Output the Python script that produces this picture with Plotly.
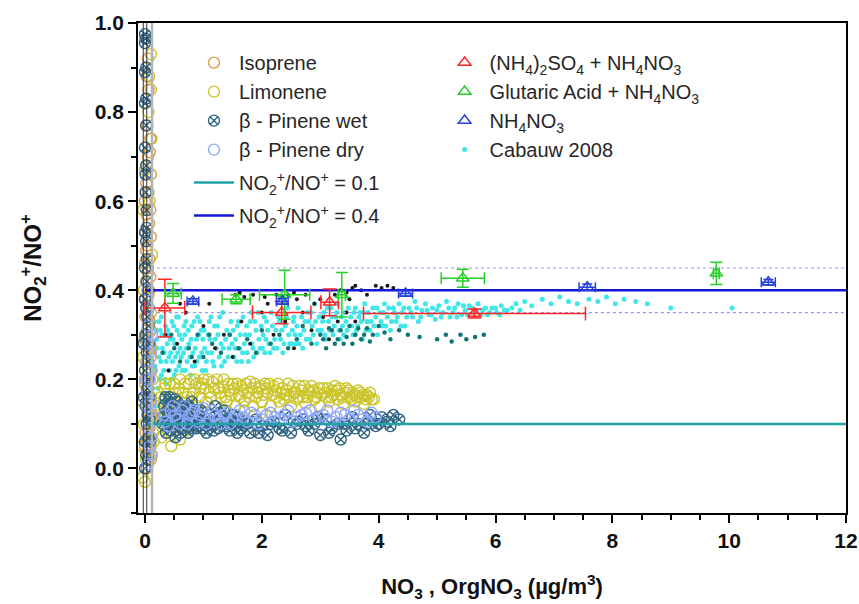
import plotly.graph_objects as go

# ---------------- data ----------------
# Chamber experiments: (NO3 or OrgNO3 mass, NO2+/NO+ ratio)
ISOPRENE = [(0.03, 0.0), (0.06, 0.03), (0.02, 0.06), (0.07, 0.09), (0.04, 0.12), (0.08, 0.15),
            (0.03, 0.18), (0.06, 0.21), (0.02, 0.24), (0.07, 0.27), (0.04, 0.30), (0.08, 0.33),
            (0.03, 0.36), (0.06, 0.39), (0.02, 0.42), (0.05, 0.45), (0.08, 0.47), (0.04, 0.50),
            (0.07, 0.55), (0.03, 0.57), (0.06, 0.62), (0.02, 0.64), (0.05, 0.70), (0.08, 0.71),
            (0.06, 0.85), (0.03, 0.88), (0.05, 0.92), (0.01, 0.08), (0.05, 0.16), (0.01, 0.34),
            (0.07, 0.40), (0.02, 0.49), (0.10, 0.02), (0.00, 0.05), (0.10, 0.12), (0.00, 0.20),
            (0.10, 0.25), (-0.01, 0.29), (0.10, 0.31), (0.00, 0.38), (0.09, 0.43), (0.00, 0.46),
            (0.10, 0.52), (0.01, 0.53), (0.09, 0.58), (0.00, 0.60), (0.10, 0.66), (0.02, 0.68),
            (0.09, 0.74), (0.04, 0.77)]

LIMONENE = [(0.15, 0.06), (0.18, 0.09), (0.20, 0.13), (0.22, 0.17), (0.28, 0.07), (0.30, 0.11),
            (0.32, 0.15), (0.35, 0.19), (0.40, 0.08), (0.45, 0.16), (0.50, 0.19), (0.55, 0.14),
            (0.60, 0.20), (0.65, 0.17), (0.70, 0.13), (0.75, 0.19), (0.80, 0.16), (0.85, 0.20),
            (0.90, 0.14), (0.95, 0.18), (1.00, 0.20), (1.05, 0.15), (1.10, 0.17), (1.15, 0.195),
            (1.20, 0.14), (1.25, 0.18), (1.30, 0.16), (1.35, 0.20), (1.40, 0.15), (1.45, 0.175),
            (1.50, 0.19), (1.55, 0.14), (1.60, 0.165), (1.65, 0.185), (1.70, 0.15), (1.75, 0.17),
            (1.80, 0.195), (1.85, 0.14), (1.90, 0.16), (1.95, 0.18), (2.00, 0.15), (2.05, 0.19),
            (2.10, 0.17), (2.15, 0.14), (2.20, 0.185), (2.25, 0.16), (2.30, 0.15), (2.35, 0.18),
            (2.40, 0.165), (2.45, 0.19), (2.50, 0.14), (2.55, 0.17), (2.60, 0.155), (2.65, 0.185),
            (2.70, 0.16), (2.75, 0.145), (2.80, 0.175), (2.85, 0.185), (2.90, 0.155), (2.95, 0.17),
            (3.00, 0.14), (3.05, 0.18), (3.10, 0.16), (3.15, 0.15), (3.20, 0.175), (3.25, 0.185),
            (3.30, 0.155), (3.35, 0.165), (3.40, 0.145), (3.45, 0.18), (3.50, 0.16), (3.55, 0.17),
            (3.60, 0.15), (3.65, 0.175), (3.70, 0.16), (3.75, 0.145), (3.80, 0.165), (3.85, 0.17),
            (3.92, 0.155), (0.50, 0.10), (0.60, 0.065), (0.70, 0.085), (0.45, 0.05), (0.90, 0.12),
            (1.10, 0.12), (1.40, 0.13), (1.70, 0.13), (2.00, 0.125),
            (0.25, 0.12), (0.27, 0.16), (0.33, 0.18), (0.38, 0.13), (0.42, 0.19), (0.47, 0.11),
            (0.52, 0.17), (0.58, 0.18), (0.62, 0.15), (0.68, 0.19), (0.72, 0.16), (0.78, 0.20),
            (0.83, 0.17), (0.88, 0.19), (0.93, 0.16), (0.98, 0.19), (1.03, 0.18), (1.08, 0.20),
            (1.13, 0.16), (1.18, 0.18), (1.23, 0.20), (1.28, 0.17), (1.33, 0.185), (1.38, 0.16),
            (1.43, 0.19), (1.48, 0.165), (1.53, 0.18), (1.58, 0.19), (1.63, 0.16), (1.68, 0.175),
            (1.73, 0.19), (1.78, 0.16), (1.83, 0.18), (1.88, 0.19), (1.93, 0.17), (1.98, 0.185),
            (2.03, 0.165), (2.08, 0.18), (2.13, 0.19), (2.18, 0.165), (2.23, 0.175), (2.28, 0.19),
            (2.33, 0.17), (2.38, 0.155), (2.43, 0.175), (2.48, 0.16), (2.53, 0.185), (2.58, 0.17),
            (2.63, 0.16), (2.68, 0.175), (2.73, 0.185), (2.78, 0.16), (2.83, 0.17), (2.88, 0.175),
            (2.93, 0.16), (2.98, 0.18), (3.03, 0.165), (3.08, 0.17), (3.13, 0.18), (3.18, 0.16),
            (3.23, 0.165), (3.28, 0.175), (3.33, 0.18), (3.38, 0.16), (3.43, 0.17), (3.48, 0.175),
            (3.53, 0.155), (3.58, 0.165), (3.63, 0.16), (3.68, 0.17), (3.73, 0.165), (3.78, 0.155),
            (3.83, 0.16), (3.88, 0.155),
            (0.00, -0.03), (-0.04, -0.02), (0.02, 0.02), (0.05, 0.04), (0.08, 0.07), (-0.02, 0.10),
            (0.04, 0.13), (0.10, 0.16), (0.00, 0.19), (0.06, 0.22), (-0.03, 0.25), (0.10, 0.93),
            (0.07, 0.88), (0.10, 0.85), (0.06, 0.80), (0.02, 0.62), (0.08, 0.60), (-0.03, 0.58),
            (0.05, 0.44), (0.10, 0.35), (0.03, 0.31), (0.12, 0.03), (0.14, 0.08), (0.12, 0.12),
            (0.10, 0.05), (-0.05, 0.05), (-0.04, 0.15), (0.13, 0.20), (0.11, 0.27), (-0.02, 0.40),
            (0.12, 0.48), (0.00, 0.67), (0.11, 0.74)]

PINENE_WET = [(0.30, 0.10), (0.33, 0.14), (0.36, 0.08), (0.40, 0.12), (0.42, 0.16), (0.46, 0.10),
              (0.50, 0.13), (0.52, 0.07), (0.55, 0.15), (0.60, 0.11), (0.63, 0.09), (0.66, 0.14),
              (0.70, 0.12), (0.74, 0.08), (0.78, 0.10), (0.80, 0.15), (0.85, 0.12), (0.88, 0.09),
              (0.92, 0.11), (0.96, 0.13), (1.00, 0.10), (1.05, 0.08), (1.10, 0.12), (1.15, 0.10),
              (1.20, 0.14), (1.25, 0.09), (1.30, 0.11), (1.35, 0.13), (1.40, 0.10), (1.45, 0.085),
              (1.50, 0.12), (1.55, 0.10), (1.60, 0.115), (1.65, 0.09), (1.70, 0.105), (1.80, 0.08),
              (1.90, 0.11), (2.00, 0.095), (2.10, 0.075), (2.20, 0.105), (2.30, 0.09), (2.40, 0.12),
              (2.50, 0.08), (2.60, 0.10), (2.70, 0.11), (2.80, 0.085), (2.90, 0.10), (3.00, 0.075),
              (3.10, 0.11), (3.20, 0.09), (3.30, 0.10), (3.35, 0.065), (3.45, 0.085), (3.55, 0.115),
              (3.65, 0.10), (3.75, 0.08), (3.85, 0.12), (3.95, 0.095), (4.05, 0.115), (4.15, 0.105),
              (4.25, 0.12), (4.35, 0.11),
              (0.32, 0.12), (0.35, 0.16), (0.38, 0.10), (0.41, 0.14), (0.44, 0.085), (0.48, 0.12),
              (0.51, 0.155), (0.54, 0.10), (0.57, 0.13), (0.61, 0.08), (0.64, 0.12), (0.68, 0.10),
              (0.72, 0.14), (0.76, 0.115), (0.82, 0.09), (0.90, 0.13), (0.98, 0.09), (1.08, 0.11),
              (1.18, 0.085), (1.28, 0.125), (1.38, 0.095), (1.48, 0.11), (1.58, 0.08), (1.75, 0.10),
              (1.95, 0.08), (2.15, 0.10), (2.35, 0.085), (2.55, 0.105), (2.75, 0.095), (2.95, 0.115),
              (3.15, 0.08), (3.40, 0.10), (3.60, 0.09), (3.80, 0.10), (4.00, 0.10), (4.20, 0.095),
              (0.00, 0.00), (0.02, 0.03), (0.00, 0.06), (0.03, 0.10), (0.01, 0.14), (0.04, 0.18),
              (0.00, 0.22), (0.03, 0.26), (0.01, 0.30), (0.04, 0.34), (0.00, 0.38), (0.03, 0.42),
              (0.00, 0.45), (0.02, 0.51), (0.00, 0.53), (0.03, 0.54), (0.01, 0.66), (0.02, 0.68),
              (0.00, 0.82), (0.02, 0.83), (0.00, 0.89), (0.02, 0.90), (0.00, 0.955), (0.01, 0.965),
              (0.00, 0.975), (0.03, 0.47), (0.02, 0.36), (0.05, 0.02), (0.06, 0.07), (0.05, 0.12),
              (0.07, 0.16), (0.06, 0.20), (0.05, 0.24), (0.07, 0.28), (0.06, 0.32), (0.05, 0.40),
              (0.08, 0.11), (0.09, 0.06), (-0.02, 0.16), (-0.02, 0.28), (0.01, 0.62), (0.00, 0.72),
              (0.02, 0.77), (0.03, 0.58)]

PINENE_DRY = [(0.32, 0.12), (0.40, 0.095), (0.48, 0.14), (0.56, 0.11), (0.64, 0.13), (0.72, 0.10),
              (0.80, 0.125), (0.90, 0.105), (1.00, 0.135), (1.10, 0.11), (1.20, 0.12), (1.30, 0.10),
              (1.40, 0.125), (1.50, 0.11), (1.62, 0.13), (1.75, 0.105), (1.88, 0.12), (2.00, 0.11),
              (2.15, 0.125), (2.30, 0.11), (2.45, 0.13), (2.60, 0.115), (2.75, 0.125), (2.90, 0.11),
              (3.05, 0.12), (3.20, 0.105), (3.35, 0.125), (3.50, 0.11), (3.65, 0.12), (3.80, 0.105),
              (3.95, 0.115),
              (0.35, 0.105), (0.44, 0.13), (0.52, 0.12), (0.60, 0.10), (0.68, 0.14), (0.76, 0.12),
              (0.85, 0.13), (0.95, 0.12), (1.05, 0.10), (1.15, 0.13), (1.25, 0.11), (1.35, 0.12),
              (1.45, 0.10), (1.56, 0.12), (1.68, 0.115), (1.82, 0.125), (1.94, 0.10), (2.08, 0.12),
              (2.22, 0.115), (2.38, 0.12), (2.52, 0.105), (2.68, 0.12), (2.82, 0.13), (2.98, 0.115),
              (3.12, 0.13), (3.28, 0.115), (3.42, 0.12), (3.58, 0.13), (3.72, 0.11), (3.88, 0.125),
              (0.05, 0.01), (0.08, 0.05), (0.06, 0.09), (0.09, 0.13), (0.05, 0.17), (0.08, 0.20),
              (0.06, 0.24), (0.09, 0.28), (0.05, 0.32), (0.07, 0.36), (0.04, 0.40), (0.10, 0.03),
              (0.11, 0.07), (0.10, 0.15), (0.11, 0.22), (0.10, 0.26), (0.12, 0.30), (0.03, 0.14),
              (0.02, 0.20)]

# Ambient measurements (Cabauw 2008)
CABAUW = [(0.08, 0.12), (0.10, 0.16), (0.12, 0.20), (0.10, 0.24), (0.14, 0.27), (0.12, 0.30),
          (0.16, 0.33), (0.18, 0.10), (0.20, 0.14), (0.22, 0.18), (0.18, 0.22), (0.24, 0.25),
          (0.20, 0.29), (0.26, 0.31), (0.28, 0.21), (0.30, 0.17), (0.30, 0.27), (0.28, 0.34),
          (0.34, 0.20), (0.36, 0.24), (0.38, 0.28), (0.35, 0.32), (0.42, 0.22), (0.44, 0.26),
          (0.40, 0.30), (0.46, 0.33), (0.50, 0.21), (0.52, 0.25), (0.48, 0.29), (0.55, 0.31),
          (0.58, 0.23), (0.60, 0.27), (0.57, 0.34), (0.64, 0.22), (0.66, 0.26), (0.68, 0.30),
          (0.70, 0.33), (0.72, 0.24), (0.75, 0.28), (0.78, 0.21), (0.80, 0.32), (0.82, 0.26),
          (0.85, 0.23), (0.88, 0.29), (0.90, 0.34), (0.93, 0.25), (0.96, 0.31), (0.98, 0.22),
          (1.02, 0.27), (1.05, 0.24), (1.08, 0.30), (1.10, 0.33), (1.14, 0.26), (1.18, 0.23),
          (1.20, 0.29), (1.24, 0.32), (1.27, 0.25), (1.30, 0.28), (1.33, 0.35), (1.36, 0.24),
          (1.40, 0.31), (1.44, 0.27), (1.47, 0.33), (1.52, 0.25), (1.55, 0.29), (1.58, 0.32),
          (1.62, 0.27), (1.65, 0.24), (1.68, 0.34), (1.72, 0.30), (1.75, 0.26), (1.80, 0.33),
          (1.83, 0.28), (1.86, 0.25), (1.90, 0.31), (1.94, 0.35), (1.97, 0.27), (2.02, 0.30),
          (2.05, 0.26), (2.08, 0.33), (2.12, 0.28), (2.16, 0.35), (2.20, 0.27), (2.24, 0.31),
          (2.28, 0.34), (2.32, 0.29), (2.36, 0.26), (2.40, 0.32), (2.44, 0.36), (2.48, 0.28),
          (2.52, 0.31), (2.55, 0.34), (2.58, 0.28), (2.62, 0.36), (2.66, 0.30), (2.70, 0.27),
          (2.74, 0.33), (2.78, 0.35), (2.82, 0.29), (2.86, 0.32), (2.90, 0.37), (2.94, 0.28),
          (2.98, 0.34), (3.02, 0.31), (3.06, 0.35), (3.10, 0.29), (3.14, 0.33), (3.18, 0.36),
          (3.22, 0.30), (3.26, 0.34), (3.30, 0.37), (3.34, 0.29), (3.38, 0.32), (3.42, 0.35),
          (3.46, 0.31), (3.52, 0.34), (3.56, 0.30), (3.60, 0.36), (3.64, 0.32), (3.68, 0.35),
          (3.72, 0.29), (3.76, 0.37), (3.80, 0.33), (3.85, 0.31), (3.90, 0.36), (3.95, 0.34),
          (3.98, 0.30), (4.02, 0.35), (4.06, 0.32), (4.10, 0.37), (4.15, 0.34), (4.20, 0.31),
          (4.25, 0.36), (4.30, 0.33), (4.35, 0.37), (4.40, 0.35), (4.45, 0.32), (4.52, 0.36),
          (4.58, 0.34), (4.62, 0.375), (4.68, 0.33), (4.74, 0.355), (4.80, 0.37), (4.86, 0.345),
          (4.92, 0.36), (4.97, 0.335), (5.03, 0.365), (5.10, 0.35), (5.16, 0.375), (5.22, 0.34),
          (5.30, 0.36), (5.36, 0.37), (5.42, 0.345), (5.48, 0.355), (5.55, 0.365), (5.62, 0.35),
          (5.70, 0.37), (5.78, 0.355), (5.86, 0.345), (5.94, 0.36), (6.02, 0.35), (6.10, 0.365),
          (6.20, 0.355), (6.35, 0.37), (6.50, 0.375), (6.62, 0.365), (6.80, 0.38), (6.95, 0.37),
          (7.10, 0.385), (7.25, 0.375), (7.40, 0.37), (7.60, 0.38), (7.75, 0.375), (7.90, 0.385),
          (8.05, 0.37), (8.20, 0.38), (8.40, 0.375), (8.60, 0.37), (9.00, 0.36), (10.05, 0.36),
          (0.11, 0.09), (0.15, 0.14), (0.13, 0.18), (0.17, 0.23), (0.15, 0.26), (0.19, 0.31),
          (0.23, 0.12), (0.25, 0.20), (0.21, 0.27), (0.27, 0.24), (0.29, 0.30), (0.24, 0.33),
          (0.27, 0.15), (0.32, 0.22), (0.33, 0.26), (0.37, 0.19), (0.39, 0.31), (0.41, 0.25),
          (0.43, 0.29), (0.45, 0.20), (0.47, 0.24), (0.49, 0.32), (0.51, 0.28), (0.53, 0.22),
          (0.56, 0.26), (0.59, 0.30), (0.54, 0.34), (0.62, 0.25), (0.63, 0.29), (0.67, 0.32),
          (0.69, 0.22), (0.71, 0.27), (0.74, 0.31), (0.77, 0.25), (0.79, 0.29), (0.81, 0.23),
          (0.84, 0.33), (0.86, 0.27), (0.89, 0.24), (0.92, 0.30), (0.94, 0.33), (0.97, 0.26),
          (0.99, 0.29), (1.01, 0.31), (1.04, 0.22), (1.07, 0.26), (1.11, 0.29), (1.13, 0.34),
          (1.16, 0.24), (1.19, 0.32), (1.22, 0.27), (1.25, 0.30), (1.28, 0.34), (1.31, 0.23),
          (1.34, 0.27), (1.38, 0.29), (1.42, 0.25), (1.45, 0.30), (1.49, 0.28), (1.51, 0.31),
          (1.54, 0.27), (1.57, 0.24), (1.60, 0.33), (1.63, 0.30), (1.67, 0.26), (1.70, 0.28),
          (1.74, 0.32), (1.77, 0.24), (1.79, 0.30), (1.82, 0.35), (1.85, 0.27), (1.88, 0.33),
          (1.92, 0.26), (1.95, 0.29), (1.99, 0.32), (2.01, 0.27), (2.04, 0.34), (2.07, 0.29),
          (2.10, 0.31), (2.14, 0.26), (2.18, 0.32), (2.22, 0.29), (2.26, 0.27), (2.30, 0.33),
          (2.34, 0.31), (2.38, 0.28), (2.42, 0.34), (2.46, 0.30), (2.51, 0.28), (2.54, 0.33),
          (2.57, 0.30), (2.60, 0.32), (2.64, 0.28), (2.68, 0.34), (2.72, 0.31), (2.76, 0.29),
          (2.80, 0.33), (2.84, 0.35), (2.88, 0.30), (2.92, 0.33), (2.96, 0.31), (3.04, 0.33),
          (3.08, 0.30), (3.12, 0.36), (3.16, 0.31), (3.20, 0.34), (3.24, 0.32), (3.28, 0.35),
          (3.32, 0.31), (3.36, 0.34), (3.40, 0.30), (3.44, 0.33), (3.48, 0.36), (3.54, 0.32),
          (3.58, 0.35), (3.62, 0.31), (3.66, 0.34), (3.70, 0.33), (3.74, 0.35), (3.78, 0.31),
          (3.82, 0.35), (3.87, 0.33), (3.92, 0.32), (3.97, 0.36), (4.04, 0.33), (4.08, 0.35),
          (4.12, 0.32), (4.17, 0.36), (4.22, 0.33), (4.27, 0.35), (4.32, 0.34), (4.38, 0.32),
          (4.43, 0.36), (4.48, 0.34), (4.55, 0.35), (4.65, 0.36), (4.72, 0.34), (4.83, 0.355),
          (4.90, 0.345), (5.00, 0.355), (5.07, 0.34), (5.20, 0.36), (5.27, 0.35), (5.34, 0.34),
          (5.45, 0.365), (5.52, 0.345), (5.60, 0.36), (5.67, 0.355), (5.75, 0.345), (5.83, 0.36),
          (5.90, 0.35), (6.00, 0.36), (6.07, 0.345), (6.15, 0.355), (6.28, 0.36), (6.42, 0.355)]

CABAUW_TEAL = [(0.30, 0.26), (0.45, 0.30), (0.60, 0.24), (0.75, 0.27), (0.90, 0.30), (1.00, 0.25),
               (1.15, 0.28), (1.30, 0.26), (1.45, 0.30), (1.60, 0.27), (1.75, 0.29), (1.90, 0.26),
               (2.00, 0.31), (2.15, 0.28), (2.30, 0.30), (2.45, 0.27), (2.60, 0.29), (2.70, 0.32),
               (2.85, 0.28), (3.00, 0.30), (3.10, 0.27), (3.20, 0.31), (3.30, 0.29), (3.40, 0.28),
               (3.50, 0.32), (3.60, 0.30), (3.70, 0.29), (3.80, 0.315), (3.90, 0.30), (4.00, 0.32),
               (4.10, 0.305), (4.20, 0.29), (4.35, 0.31), (4.50, 0.30), (4.70, 0.295), (5.00, 0.29),
               (5.15, 0.30), (5.25, 0.285), (5.40, 0.30), (5.50, 0.29), (5.65, 0.295), (5.80, 0.30),
               (3.05, 0.29), (3.15, 0.315), (3.25, 0.28), (3.35, 0.31), (3.45, 0.295), (3.55, 0.28),
               (3.65, 0.315), (3.75, 0.30), (3.85, 0.285), (0.50, 0.27), (0.80, 0.25), (1.10, 0.30)]

CABAUW_BLACK = [(1.55, 0.39), (1.62, 0.395), (1.70, 0.385), (1.85, 0.39), (2.05, 0.385), (2.25, 0.39),
                (2.35, 0.385), (2.45, 0.39), (2.55, 0.395), (2.60, 0.38), (2.75, 0.39), (2.90, 0.37),
                (3.00, 0.38), (3.25, 0.39), (3.35, 0.40), (3.45, 0.395), (3.50, 0.38), (3.55, 0.405),
                (3.60, 0.41), (3.70, 0.40), (3.80, 0.39), (3.95, 0.41), (4.05, 0.405), (4.15, 0.41),
                (4.25, 0.405), (0.35, 0.30), (0.40, 0.22), (0.55, 0.28), (0.70, 0.35), (0.85, 0.24),
                (1.00, 0.32), (1.20, 0.27), (1.35, 0.30), (1.50, 0.25), (1.65, 0.33), (1.80, 0.28),
                (2.00, 0.35), (2.20, 0.30), (2.40, 0.33), (2.55, 0.27), (2.70, 0.35), (2.85, 0.31),
                (3.05, 0.34), (3.15, 0.29), (3.30, 0.33), (3.45, 0.35), (3.60, 0.33), (1.10, 0.37),
                (0.60, 0.37), (2.10, 0.37)]

# Laboratory inorganic standards: x, y, x error, y error
AS_AN_X = [0.34, 2.34, 3.16, 5.64]
AS_AN_Y = [0.36, 0.35, 0.373, 0.348]
AS_AN_XERR = [0.34, 0.50, 0.15, 1.90]
AS_AN_YERR = [0.065, 0.025, 0.03, 0.01]

GA_AN_X = [0.48, 1.56, 2.39, 3.37, 5.44, 9.78]
GA_AN_Y = [0.393, 0.38, 0.39, 0.39, 0.427, 0.438]
GA_AN_XERR = [0.14, 0.24, 0.43, 0.06, 0.37, 0.05]
GA_AN_YERR = [0.022, 0.01, 0.055, 0.05, 0.02, 0.025]

AN_X = [0.82, 2.35, 4.46, 7.57, 10.67]
AN_Y = [0.375, 0.375, 0.393, 0.407, 0.418]
AN_XERR = [0.10, 0.10, 0.12, 0.14, 0.12]
AN_YERR = [0.006, 0.006, 0.006, 0.007, 0.006]

# Reference ratio levels and their +/-0.05 bands
RATIO_LOW = 0.1
RATIO_HIGH = 0.4
BAND = [0.35, 0.45]
X_SPAN = [0.0, 12.0]


def unzip(pairs):
    return [p[0] for p in pairs], [p[1] for p in pairs]


fig = go.Figure()

# ambient cloud
for pts, col, size, show in [(CABAUW, "#40e6e8", 5, True), (CABAUW_TEAL, "#127575", 4.5, False),
                             (CABAUW_BLACK, "#1a1a1a", 4, False)]:
    xs, ys = unzip(pts)
    fig.add_trace(go.Scatter(
        x=xs, y=ys, mode="markers", name="Cabauw 2008", showlegend=show,
        legend="legend2", legendrank=4,
        marker=dict(size=size, color=col, line=dict(width=0))))

# chamber experiments
circle_sets = [
    (LIMONENE, "Limonene", "#cbc52a", "circle-open", 2),
    (ISOPRENE, "Isoprene", "#de9b4b", "circle-open", 1),
    (PINENE_WET, "β - Pinene wet", "#2f6383", "circle-x-open", 3),
    (PINENE_DRY, "β - Pinene dry", "#90a8ff", "circle-open", 4),
]
for pts, name, col, sym, rank in circle_sets:
    xs, ys = unzip(pts)
    fig.add_trace(go.Scatter(
        x=xs, y=ys, mode="markers", name=name, legend="legend", legendrank=rank,
        legendgroup="chamber",
        marker=dict(size=11, symbol=sym, color=col, line=dict(width=1.4, color=col))))

# dotted band limits
for yb in BAND:
    fig.add_trace(go.Scatter(
        x=[0.1, X_SPAN[1]], y=[yb, yb], mode="lines", showlegend=False, hoverinfo="skip",
        line=dict(color="#8f9cf0", width=1.2, dash="dot")))

# ratio reference lines
fig.add_trace(go.Scatter(
    x=X_SPAN, y=[RATIO_LOW, RATIO_LOW], mode="lines", legend="legend", legendrank=5,
    legendgroup="r1", name="NO<sub>2</sub><sup>+</sup>/NO<sup>+</sup> = 0.1",
    line=dict(color="#1fa3a6", width=2.5)))
fig.add_trace(go.Scatter(
    x=X_SPAN, y=[RATIO_HIGH, RATIO_HIGH], mode="lines", legend="legend", legendrank=6,
    legendgroup="r2", name="NO<sub>2</sub><sup>+</sup>/NO<sup>+</sup> = 0.4",
    line=dict(color="#1515d8", width=2.5)))

# inorganic standards with error bars
tri_sets = [
    (AS_AN_X, AS_AN_Y, AS_AN_XERR, AS_AN_YERR,
     "(NH<sub>4</sub>)<sub>2</sub>SO<sub>4</sub> + NH<sub>4</sub>NO<sub>3</sub>", "#ff2626", 1, 7),
    (GA_AN_X, GA_AN_Y, GA_AN_XERR, GA_AN_YERR,
     "Glutaric Acid + NH<sub>4</sub>NO<sub>3</sub>", "#27d027", 2, 6),
    (AN_X, AN_Y, AN_XERR, AN_YERR, "NH<sub>4</sub>NO<sub>3</sub>", "#2440e0", 3, 5),
]
for xs, ys, xe, ye, name, col, rank, cap in tri_sets:
    fig.add_trace(go.Scatter(
        x=xs, y=ys, mode="markers", name=name, legend="legend2", legendrank=rank,
        marker=dict(size=11, symbol="triangle-up-open", color=col, line=dict(width=1.5, color=col)),
        error_x=dict(type="data", array=xe, color=col, thickness=1.5, width=cap),
        error_y=dict(type="data", array=ye, color=col, thickness=1.5, width=cap)))

# thin vertical guide lines at the origin
for xv, col, w in [(-0.03, "#333333", 1), (0.03, "#333333", 1), (0.12, "#b5b5b5", 2.5)]:
    fig.add_shape(type="line", xref="x", yref="paper", x0=xv, x1=xv, y0=0, y1=1,
                  line=dict(color=col, width=w), layer="above")

tick_font = dict(family="Liberation Sans, Arial", size=21, color="#111111", weight="bold")
legend_font = dict(family="Liberation Sans, Arial", size=20, color="#262626")

fig.update_layout(
    width=859, height=604,
    margin=dict(l=138, r=13, t=23, b=91),
    paper_bgcolor="white", plot_bgcolor="white",
    xaxis=dict(
        range=[-0.12, 12], tickmode="linear", tick0=0, dtick=2, automargin=False,
        ticks="outside", ticklen=8, tickwidth=1.5, tickcolor="black",
        minor=dict(dtick=0.5, tick0=0, ticks="outside", ticklen=5, tickwidth=1.5, tickcolor="black"),
        showline=True, linecolor="black", linewidth=1.8, mirror=True,
        showgrid=False, zeroline=False, tickfont=tick_font,
        title=dict(text="NO<sub>3</sub> , OrgNO<sub>3</sub> (µg/m<sup>3</sup>)", standoff=28,
                   font=dict(family="Liberation Sans, Arial", size=22, color="#111111", weight="bold"))),
    yaxis=dict(
        range=[-0.1, 1.0], tickmode="linear", tick0=0, dtick=0.2, tickformat=".1f", automargin=False,
        ticks="outside", ticklen=8, tickwidth=1.5, tickcolor="black",
        minor=dict(dtick=0.1, tick0=0, ticks="outside", ticklen=5, tickwidth=1.5, tickcolor="black"),
        showline=True, linecolor="black", linewidth=1.8, mirror=True,
        showgrid=False, zeroline=False, tickfont=tick_font,
        title=dict(text="NO<sub>2</sub><sup>+</sup>/NO<sup>+</sup>", standoff=46,
                   font=dict(family="Liberation Sans, Arial", size=24, color="#111111", weight="bold"))),
    legend=dict(x=0.072, y=0.959, xanchor="left", yanchor="top", bgcolor="rgba(0,0,0,0)",
                font=legend_font, tracegroupgap=4, itemsizing="trace", itemwidth=40),
    legend2=dict(x=0.426, y=0.959, xanchor="left", yanchor="top", bgcolor="rgba(0,0,0,0)",
                 font=legend_font, tracegroupgap=0, itemsizing="trace", itemwidth=40),
    showlegend=True,
)

fig.write_html("out.html")
